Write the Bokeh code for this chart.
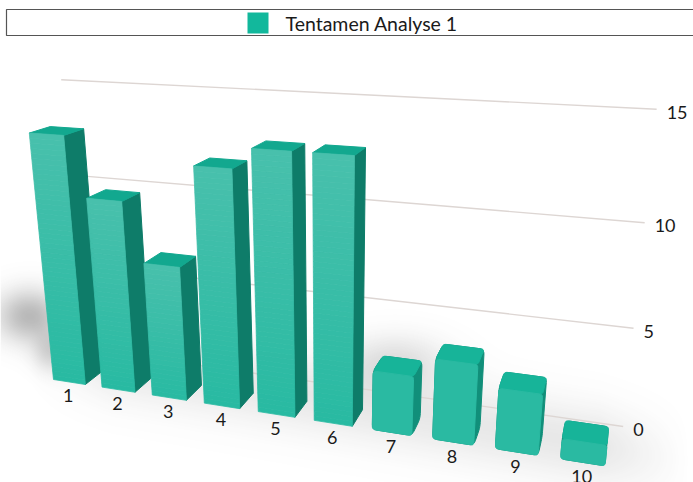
import numpy as np
from bokeh.plotting import figure
from bokeh.models import Range1d
from bokeh.core.properties import value
from bokeh.embed import file_html
from bokeh.resources import INLINE

# Chart content
categories = ["1", "2", "3", "4", "5", "6", "7", "8", "9", "10"]
scores = [13, 10, 7, 12, 13, 13, 3, 4, 3, 1]
value_ticks = [0, 5, 10, 15]
legend_label = "Tentamen Analyse 1"

W, H = 693, 482
FONT = value("Lato")
INK = "#1a1a1a"

# Three-point perspective camera: vanishing points for the category, value
# and depth directions, plus the rate each direction changes the homogeneous w.
VP_X = (-2750.0, -60.0)
VP_Y = (330.0, 3200.0)
VP_Z = (650.0, -60.0)
ORIGIN = (53.0, 379.0)
RATE_X, RATE_Y, RATE_Z = -0.01702, -0.00618, 0.032
BAR_WIDTH = 0.66
WALL_Z = 2.24
WALL_LEFT, WALL_RIGHT = -0.2, 9.89


def project(x, y, z):
    """Map (category position, value, depth) to page coordinates."""
    ax, ay, az = RATE_X * x, RATE_Y * y, RATE_Z * z
    w = 1 + ax + ay + az
    return ((ORIGIN[0] + ax * VP_X[0] + ay * VP_Y[0] + az * VP_Z[0]) / w,
            (ORIGIN[1] + ax * VP_X[1] + ay * VP_Y[1] + az * VP_Z[1]) / w)


def face(points):
    pts = [project(*pt) for pt in points]
    return [pt[0] for pt in pts], [pt[1] for pt in pts]


def rounded(xs, ys, r):
    """Replace each polygon corner with a short quadratic curve of radius r."""
    n = len(xs)
    out_x, out_y = [], []
    for k in range(n):
        c = np.array([xs[k], ys[k]])
        prev = np.array([xs[k - 1], ys[k - 1]])
        nxt = np.array([xs[(k + 1) % n], ys[(k + 1) % n]])
        a = c + (prev - c) * min(r / np.linalg.norm(prev - c), 0.45)
        b = c + (nxt - c) * min(r / np.linalg.norm(nxt - c), 0.45)
        for t in np.linspace(0, 1, 6):
            pt = (1 - t) ** 2 * a + 2 * t * (1 - t) * c + t ** 2 * b
            out_x.append(pt[0])
            out_y.append(pt[1])
    return out_x, out_y


def mix(c0, c1, t):
    a = np.array(c0, float)
    b = np.array(c1, float)
    return "#%02x%02x%02x" % tuple(int(round(v)) for v in a + (b - a) * t)


p = figure(width=W, height=H, x_range=Range1d(0, W), y_range=Range1d(H, 0),
           output_backend="svg", toolbar_location=None, min_border=0,
           outline_line_color=None, background_fill_color="white",
           border_fill_color="white")
p.axis.visible = False
p.grid.visible = False

# Soft floor shadow behind and under the bars
yy, xx = np.mgrid[0:H, 0:W].astype(float)
band_y = 340 + 0.175 * xx
band = 0.12 * np.exp(-((yy - band_y) / 40.0) ** 2) * np.clip((xx - 30) / 80, 0, 1) * np.clip((690 - xx) / 90, 0, 1)
left_spot = 0.36 * np.exp(-((xx - 28) / 32.0) ** 2 - ((yy - 315) / 26.0) ** 2)
low_spot = 0.20 * np.exp(-((xx - 50) / 18.0) ** 2 - ((yy - 350) / 20.0) ** 2)
mid_spot = 0.16 * np.exp(-((xx - 395) / 50.0) ** 2 - ((yy - 362) / 28.0) ** 2)
alpha = np.clip(band + left_spot + low_spot + mid_spot, 0, 0.6)
rgba = np.zeros((H, W), dtype=np.uint32)
view = rgba.view(dtype=np.uint8).reshape((H, W, 4))
view[..., 0] = view[..., 1] = view[..., 2] = 60
view[..., 3] = (alpha * 255).astype(np.uint8)
p.image_rgba(image=[rgba], x=0, y=0, dw=W, dh=H)

# Receding gridlines on the back wall
for tick in value_ticks:
    gx, gy = face([(WALL_LEFT, tick, WALL_Z), (WALL_RIGHT, tick, WALL_Z)])
    p.line(gx, gy, line_color="#ddd6d3", line_width=1.4)
    p.text([gx[1]], [gy[1]], text=[str(tick)], text_font=FONT, text_font_size="18px",
           text_color=INK, text_align="left", text_baseline="middle",
           x_offset=10, y_offset=3)

# Bars, painted from far (left) to near (right)
for i, (cat, score) in enumerate(zip(categories, scores)):
    x0, x1 = i, i + BAR_WIDTH
    short = score < 5
    side_col = "#118f7a" if short else "#0e7c69"
    top_col = "#17b499" if short else "#12a88f"
    front_hi = (44, 186, 162) if short else (72, 192, 172)
    front_lo = (40, 186, 162)

    sx, sy = face([(x1, 0, 0), (x1, 0, 1), (x1, score, 1), (x1, score, 0)])
    tx, ty = face([(x0, score, 0), (x1, score, 0), (x1, score, 1), (x0, score, 1)])
    fx, fy = face([(x0, 0, 0), (x1, 0, 0), (x1, score, 0), (x0, score, 0)])
    if short:
        # Low bars have visibly softened corners: a rounded outline first,
        # then the lit faces on top of it
        hx, hy = face([(x0, 0, 0), (x1, 0, 0), (x1, 0, 1), (x1, score, 1),
                       (x0, score, 1), (x0, score, 0)])
        hx, hy = rounded(hx, hy, 5)
        p.patch(hx, hy, fill_color=side_col, line_color=side_col, line_width=1)
        tx, ty = rounded(tx, ty, 3)
        fx, fy = rounded(fx, fy, 3)
        p.patch(tx, ty, fill_color=top_col, line_color=top_col, line_width=1)
        p.patch(fx, fy, fill_color=mix(front_lo, front_hi, 0.5),
                line_color=mix(front_lo, front_hi, 0.5), line_width=1)
    else:
        p.patch(sx, sy, fill_color=side_col, line_color=side_col, line_width=1, line_join="round")
        p.patch(tx, ty, fill_color=top_col, line_color=top_col, line_width=1, line_join="round")
        steps = 4 * score
        xs, ys, cols = [], [], []
        for k in range(steps):
            v0 = score * k / steps
            v1 = score * (k + 1) / steps
            qx, qy = face([(x0, v0, 0), (x1, v0, 0), (x1, v1, 0), (x0, v1, 0)])
            xs.append(qx)
            ys.append(qy)
            cols.append(mix(front_lo, front_hi, (k + 0.5) / steps))
        p.patches(xs, ys, fill_color=cols, line_color=cols, line_width=0.8)

    bx, by = project(i + BAR_WIDTH / 2, 0, 0)
    p.text([bx], [by], text=[cat], text_font=FONT, text_font_size="18px", text_color=INK,
           text_align="center", text_baseline="middle", x_offset=-1, y_offset=14)

# Legend strip across the top
p.patch([6, 6, 700, 700], [9, 35, 35, 9], fill_color="white", line_color=None)
p.line([700, 6, 6, 700], [9, 9, 35, 35], line_color="#555555", line_width=1.2)
p.quad(left=[247], right=[268], top=[12], bottom=[33], fill_color="#12b89c", line_color=None)
p.text([285], [23], text=[legend_label], text_font=FONT, text_font_size="19.5px", text_color=INK,
       text_align="left", text_baseline="middle")

open("out.html", "w").write(file_html(p, INLINE))
